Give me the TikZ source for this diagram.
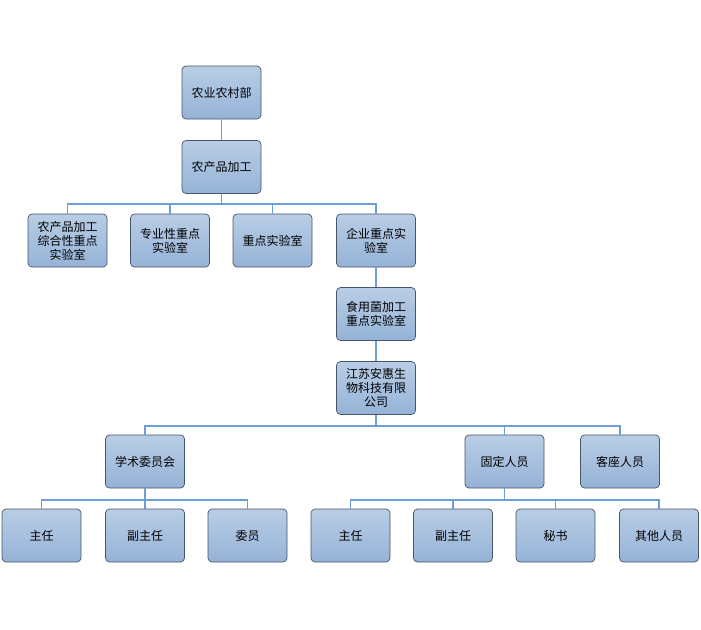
\documentclass[tikz,border=0pt]{standalone}
\usepackage{fontspec}
\newfontfamily\cjk{Noto Sans CJK SC}
\usepackage{tikz}
\definecolor{boxtop}{RGB}{185,205,229}
\definecolor{boxbot}{RGB}{149,179,215}
\definecolor{boxline}{RGB}{70,85,105}
\definecolor{linkblue}{RGB}{110,158,214}
\tikzset{
  orgbox/.style={draw=boxline, line width=0.7pt, rounded corners=4pt,
    top color=boxtop, bottom color=boxbot,
    minimum width=79pt, minimum height=53pt, inner sep=1pt,
    align=center, font=\cjk\fontsize{12pt}{14pt}\selectfont},
  link/.style={draw=linkblue, line width=1.3pt}
}
\begin{document}
\begin{tikzpicture}[x=1pt,y=-1pt]
\useasboundingbox (0,0) rectangle (701,629);

% top of the tree
\node [orgbox] (nync) at (221.5,92.5) {农业农村部};
\node [orgbox] (ncp) at (221.5,167) {农产品加工};

% labs
\node [orgbox] (zhx) at (67.5,240.5) {农产品加工\\综合性重点\\实验室};
\node [orgbox] (zyx) at (170,240.5) {专业性重点\\实验室};
\node [orgbox] (zd) at (272.5,240.5) {重点实验室};
\node [orgbox] (qy) at (376,240.5) {企业重点实\\验室};

\node [orgbox] (syj) at (376,314) {食用菌加工\\重点实验室};
\node [orgbox] (js) at (376,388) {江苏安惠生\\物科技有限\\公司};

% staff groups
\node [orgbox] (xs) at (145,461.5) {学术委员会};
\node [orgbox] (gd) at (504.5,461.5) {固定人员};
\node [orgbox] (kz) at (620,461.5) {客座人员};

\node [orgbox] (xszr) at (41.5,535.5) {主任};
\node [orgbox] (xsfzr) at (145,535.5) {副主任};
\node [orgbox] (xswy) at (247.5,535.5) {委员};
\node [orgbox] (gdzr) at (350.5,535.5) {主任};
\node [orgbox] (gdfzr) at (453,535.5) {副主任};
\node [orgbox] (gdms) at (555.5,535.5) {秘书};
\node [orgbox] (gdqt) at (659,535.5) {其他人员};

% branch points
\coordinate (b1) at (221.5,204);
\coordinate (b2) at (376,426);
\coordinate (b3) at (145,500);
\coordinate (b4) at (504.5,500);

\draw [link] (nync) -- (ncp);
\draw [link] (qy) -- (syj);
\draw [link] (syj) -- (js);

\draw [link] (ncp) -- (b1);
\foreach \c in {zhx,zyx,zd,qy} {
\draw [link] (b1) -| (\c);
}

\draw [link] (js) -- (b2);
\foreach \c in {xs,gd,kz} {
\draw [link] (b2) -| (\c);
}

\draw [link] (xs) -- (b3);
\foreach \c in {xszr,xsfzr,xswy} {
\draw [link] (b3) -| (\c);
}

\draw [link] (gd) -- (b4);
\foreach \c in {gdzr,gdfzr,gdms,gdqt} {
\draw [link] (b4) -| (\c);
}

\end{tikzpicture}
\end{document}
